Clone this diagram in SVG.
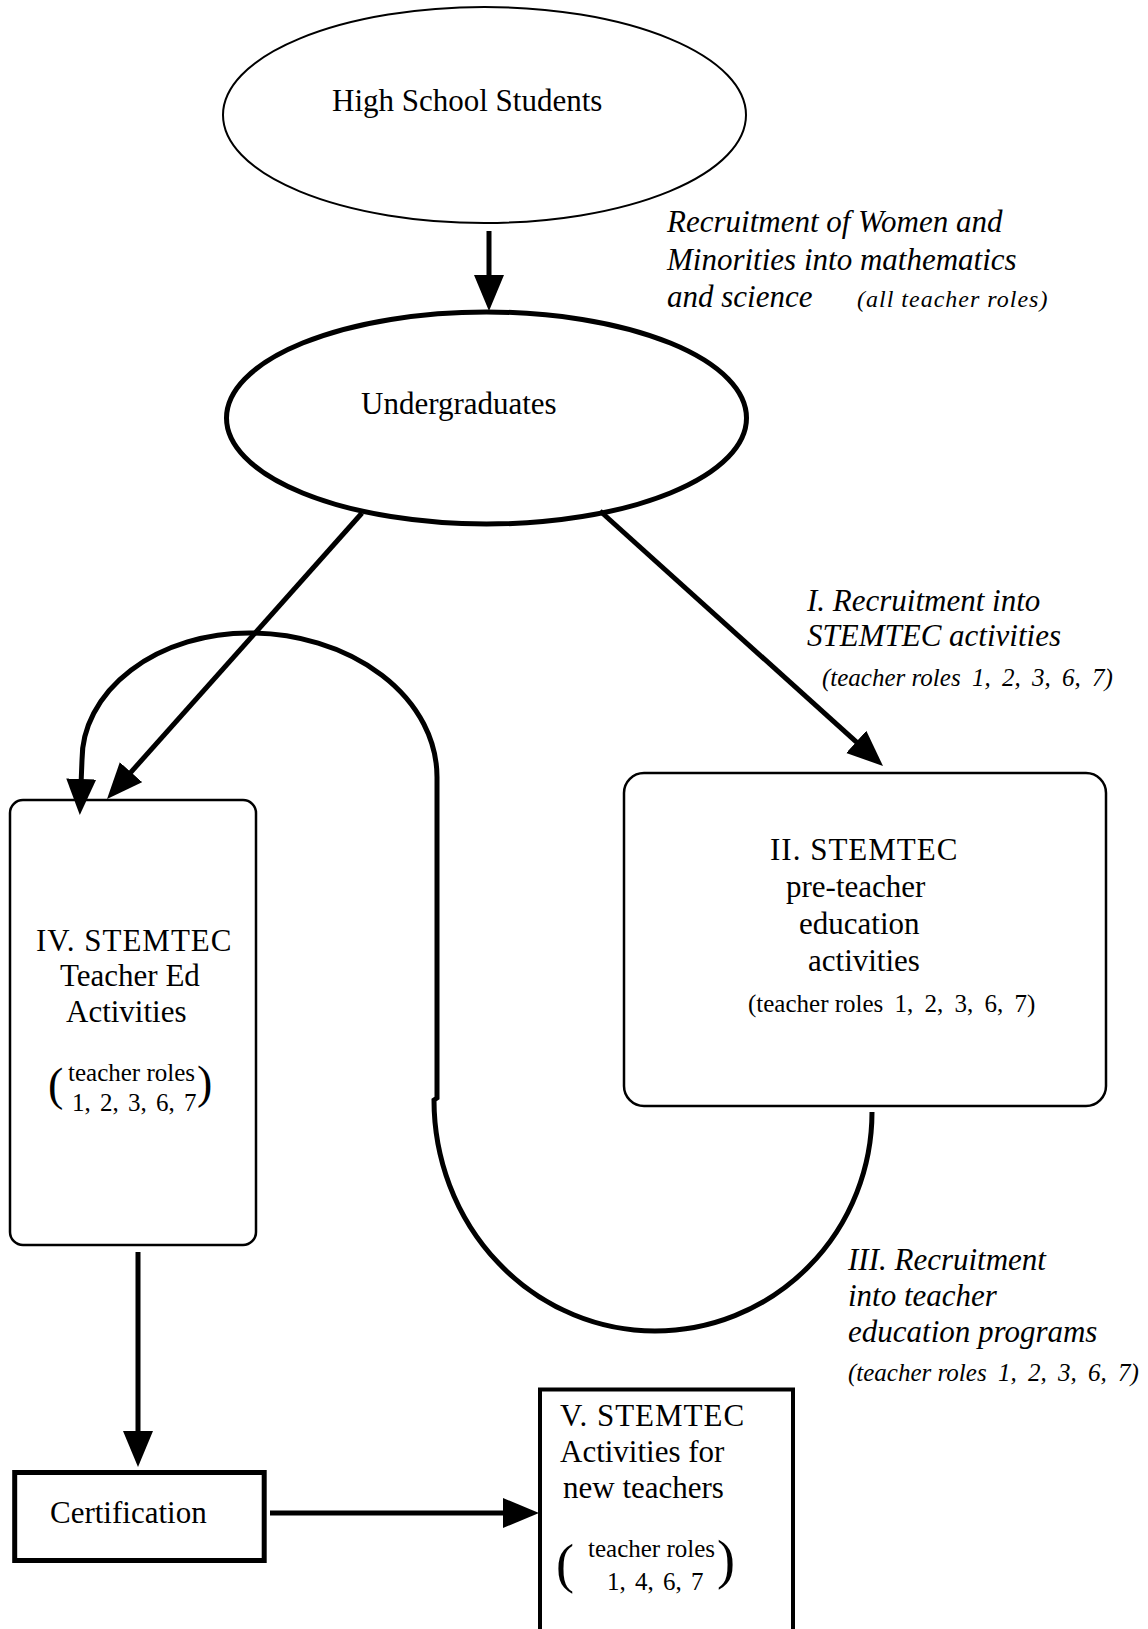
<svg xmlns="http://www.w3.org/2000/svg" width="1148" height="1629" viewBox="0 0 1148 1629">
<style>
text{font-family:"Liberation Serif","Times New Roman",serif;fill:#000}
.t{font-size:31px}
.s{font-size:25px}
.i{font-size:31px;font-style:italic}
.si{font-size:25px;font-style:italic}
.w{word-spacing:5px}
.w3{word-spacing:3px}
.p{font-size:46px}
.p2{font-size:54px}
.ls{letter-spacing:1px}
.node{fill:#fff;stroke:#000}
.con{fill:none;stroke:#000;stroke-width:5}
</style>
<defs>
<marker id="ah" markerUnits="userSpaceOnUse" markerWidth="40" markerHeight="32" refX="6" refY="15" orient="auto">
<path d="M0,0 L36,15 L0,30 z" fill="#000"/>
</marker>
</defs>
<rect width="1148" height="1629" fill="#fff"/>

<g id="hs">
<ellipse class="node" cx="484.5" cy="115" rx="261.5" ry="108" stroke-width="2"/>
<text class="t" x="332" y="111">High School Students</text>
</g>

<g id="ug">
<ellipse class="node" cx="486.5" cy="418" rx="260" ry="106" stroke-width="5"/>
<text class="t" x="361" y="414">Undergraduates</text>
</g>

<g id="box2">
<rect class="node" x="624" y="773" width="482" height="333" rx="20" stroke-width="2.5"/>
<text class="t ls" x="770" y="860">II. STEMTEC</text>
<text class="t" x="786" y="897">pre-teacher</text>
<text class="t" x="799" y="934">education</text>
<text class="t" x="808" y="971">activities</text>
<text class="s" x="748" y="1012">(teacher roles<tspan class="w"> 1, 2, 3, 6, 7)</tspan></text>
</g>

<g id="box4">
<rect class="node" x="10" y="800" width="246" height="445" rx="13" stroke-width="2.5"/>
<text class="t ls" x="36" y="951">IV. STEMTEC</text>
<text class="t" x="60" y="986">Teacher Ed</text>
<text class="t" x="66" y="1022">Activities</text>
<text class="p" x="48" y="1100">(</text>
<text class="s" x="68" y="1081">teacher roles</text>
<text class="s w3" x="72" y="1111">1, 2, 3, 6, 7</text>
<text class="p" x="197" y="1098">)</text>
</g>

<g id="cert">
<rect class="node" x="14.7" y="1472.5" width="249.5" height="88" stroke-width="5"/>
<text class="t" x="50" y="1523">Certification</text>
</g>

<g id="box5">
<rect class="node" x="540" y="1389.5" width="253" height="260" stroke-width="4"/>
<text class="t ls" x="560" y="1426">V. STEMTEC</text>
<text class="t" x="560" y="1462">Activities for</text>
<text class="t" x="563" y="1498">new teachers</text>
<text class="p2" x="556" y="1582">(</text>
<text class="s" x="588" y="1557">teacher roles</text>
<text class="s w3" x="607" y="1590">1, 4, 6, 7</text>
<text class="p2" x="717" y="1578">)</text>
</g>

<g id="connectors">
<path class="con" d="M489 231 L489 281" marker-end="url(#ah)"/>
<path class="con" d="M362 513 L127 776.6" stroke-width="4.5" marker-end="url(#ah)"/>
<path class="con" d="M600 511 L860.7 745.9" stroke-width="4.5" marker-end="url(#ah)"/>
<path class="con" d="M872 1112 A217 219 0 0 1 655 1331 A221 231 0 0 1 434 1100 L437 1098 L437 777 A188 144 0 0 0 249 633 A167 127 0 0 0 82 760 L81 785" stroke-width="4.5" marker-end="url(#ah)"/>
<path class="con" d="M138 1252 L138 1437" marker-end="url(#ah)"/>
<path class="con" d="M270 1513 L509 1513" marker-end="url(#ah)"/>
</g>

<g id="labels">
<text class="i" x="667" y="232">Recruitment of Women and</text>
<text class="i" x="667" y="270">Minorities into mathematics</text>
<text class="i" x="667" y="307">and science</text>
<text class="i" x="857" y="307" style="font-size:24px;letter-spacing:1px">(all teacher roles)</text>
<text class="i" x="807" y="611">I. Recruitment into</text>
<text class="i" x="807" y="646">STEMTEC activities</text>
<text class="si" x="822" y="686">(teacher roles<tspan class="w"> 1, 2, 3, 6, 7)</tspan></text>
<text class="i" x="848" y="1270">III. Recruitment</text>
<text class="i" x="848" y="1306">into teacher</text>
<text class="i" x="848" y="1342">education programs</text>
<text class="si" x="848" y="1381">(teacher roles<tspan class="w"> 1, 2, 3, 6, 7)</tspan></text>
</g>
</svg>
